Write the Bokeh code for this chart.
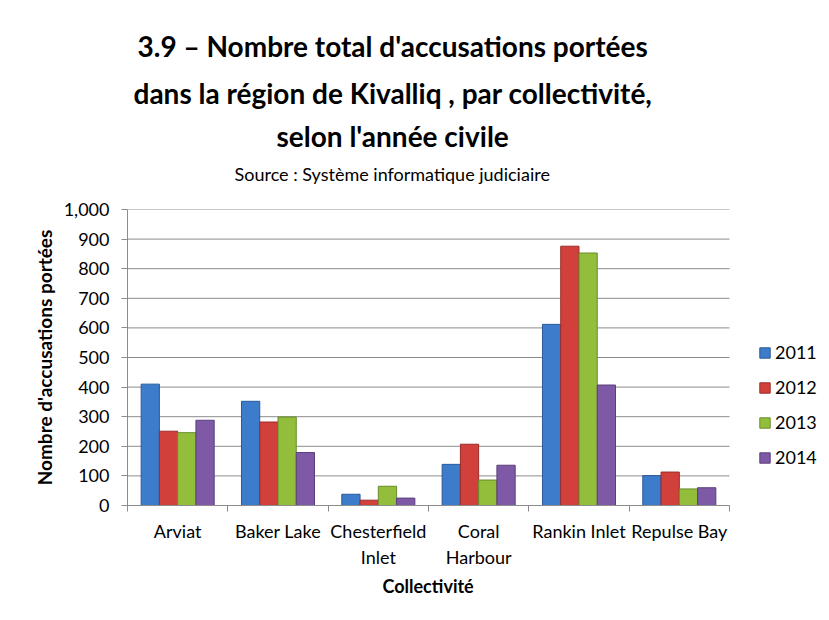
import numpy as np
from bokeh.plotting import figure
from bokeh.models import (ColumnDataSource, Range1d, FixedTicker, NumeralTickFormatter,
                          Title, Legend, LegendItem)
from bokeh.transform import dodge
from bokeh.embed import file_html
from bokeh.resources import INLINE

# ---------------- data ----------------
categories = ["Arviat", "Baker Lake", "Chesterfield Inlet", "Coral Harbour", "Rankin Inlet", "Repulse Bay"]
category_labels = ["Arviat", "Baker Lake", "Chesterfield\nInlet", "Coral\nHarbour", "Rankin Inlet", "Repulse Bay"]
years = ["2011", "2012", "2013", "2014"]
v2011 = [410, 352, 38, 139, 612, 101]
v2012 = [251, 282, 18, 207, 876, 113]
v2013 = [246, 299, 65, 86, 853, 56]
v2014 = [288, 179, 25, 136, 407, 60]
y_ticks = [0, 100, 200, 300, 400, 500, 600, 700, 800, 900, 1000]

title_lines = ["3.9 \u2013 Nombre total d'accusations port\u00e9es",
               "dans la r\u00e9gion de Kivalliq , par collectivit\u00e9,",
               "selon l'ann\u00e9e civile"]
subtitle = "Source : Syst\u00e8me informatique judiciaire"
y_title = "Nombre d'accusations port\u00e9es"
x_title = "Collectivit\u00e9"

fills = ["#3D7CCB", "#D2403B", "#93BE3C", "#7D59A6"]
edges = ["#2A5A98", "#9A2C28", "#6A8C2A", "#5A3F7C"]

FONT = "Lato"
W, H = 826, 618
LEFT, TOP, RIGHT = 127, 209, 2
FRAME_H = 296
n = len(categories)
px_per_cat = 100.33
x_end = (W - LEFT - RIGHT) / px_per_cat

centers = [i + 0.5 for i in range(n)]
source = ColumnDataSource(dict(x=centers, v2011=v2011, v2012=v2012, v2013=v2013, v2014=v2014))

p = figure(width=W, height=H, x_range=Range1d(0, x_end), y_range=Range1d(0, 1000),
           output_backend="svg", toolbar_location=None,
           min_border_left=LEFT, min_border_right=RIGHT, min_border_top=TOP,
           min_border_bottom=H - TOP - FRAME_H)
p.outline_line_color = None
p.background_fill_color = "white"
p.border_fill_color = "white"

# horizontal gridlines limited to the category area
p.xgrid.grid_line_color = None
p.ygrid.grid_line_color = None
p.segment(x0=[0] * len(y_ticks), x1=[n] * len(y_ticks), y0=y_ticks, y1=y_ticks,
          line_color="#8C8C8C", line_width=1)

bw = 0.182
cols = ["v2011", "v2012", "v2013", "v2014"]
renderers = []
for k, (col, fc, ec) in enumerate(zip(cols, fills, edges)):
    off = (k - 1.5) * bw
    r = p.vbar(x=dodge("x", off, range=p.x_range), top=col, width=bw, bottom=0,
               source=source, fill_color=fc, line_color=ec, line_width=1)
    renderers.append(r)

xa = p.xaxis[0]
xa.bounds = (0, n)
xa.ticker = FixedTicker(ticks=centers, minor_ticks=list(range(n + 1)))
xa.major_label_overrides = {c: lab for c, lab in zip(centers, category_labels)}
xa.major_tick_out = 0
xa.major_tick_in = 0
xa.minor_tick_out = 6
xa.minor_tick_in = 0
xa.minor_tick_line_color = "#8C8C8C"
xa.axis_line_color = "#8C8C8C"
xa.major_label_standoff = 8
xa.major_label_text_font = FONT
xa.major_label_text_font_size = "18px"
xa.major_label_text_color = "black"

ya = p.yaxis[0]
ya.ticker = FixedTicker(ticks=y_ticks)
ya.formatter = NumeralTickFormatter(format="0,0")
ya.major_tick_out = 6
ya.major_tick_in = 0
ya.minor_tick_out = 0
ya.minor_tick_in = 0
ya.major_tick_line_color = "#8C8C8C"
ya.axis_line_color = "#8C8C8C"
ya.major_label_standoff = 12
ya.major_label_text_font = FONT
ya.major_label_text_font_size = "18px"
ya.major_label_text_color = "black"
ya.axis_label = y_title
ya.axis_label_text_font = FONT
ya.axis_label_text_font_style = "bold"
ya.axis_label_text_font_size = "19px"
ya.axis_label_text_color = "black"
ya.axis_label_standoff = 5

# x-axis title, centred under the category area (not the full frame)
p.add_layout(Title(text=x_title, align="left", offset=255, standoff=4,
                   text_font=FONT, text_font_size="18px", text_font_style="bold",
                   text_color="black"), "below")

# titles stacked above the frame (first added = closest to the frame)
p.add_layout(Title(text=subtitle, align="left", offset=107, standoff=50,
                   text_font=FONT, text_font_size="18px", text_font_style="normal",
                   text_color="black"), "above")
title_offsets = [10, 6, 149]
title_standoffs = [-28, 50, -35]
for line, off, so in reversed(list(zip(title_lines, title_offsets, title_standoffs))):
    p.add_layout(Title(text=line, align="left", offset=off, standoff=so,
                       text_font=FONT, text_font_size="28px", text_font_style="bold",
                       text_color="black"), "above")

legend = Legend(items=[LegendItem(label=y, renderers=[r]) for y, r in zip(years, renderers)],
                location=(631, 37))
legend.border_line_color = None
legend.background_fill_alpha = 0
legend.glyph_width = 13
legend.glyph_height = 13
legend.label_height = 20
legend.spacing = 13
legend.padding = 10
legend.margin = 0
legend.label_standoff = 4
legend.label_text_font = FONT
legend.label_text_font_size = "18px"
legend.label_text_color = "black"
p.add_layout(legend)

open("out.html", "w").write(file_html(p, INLINE))
